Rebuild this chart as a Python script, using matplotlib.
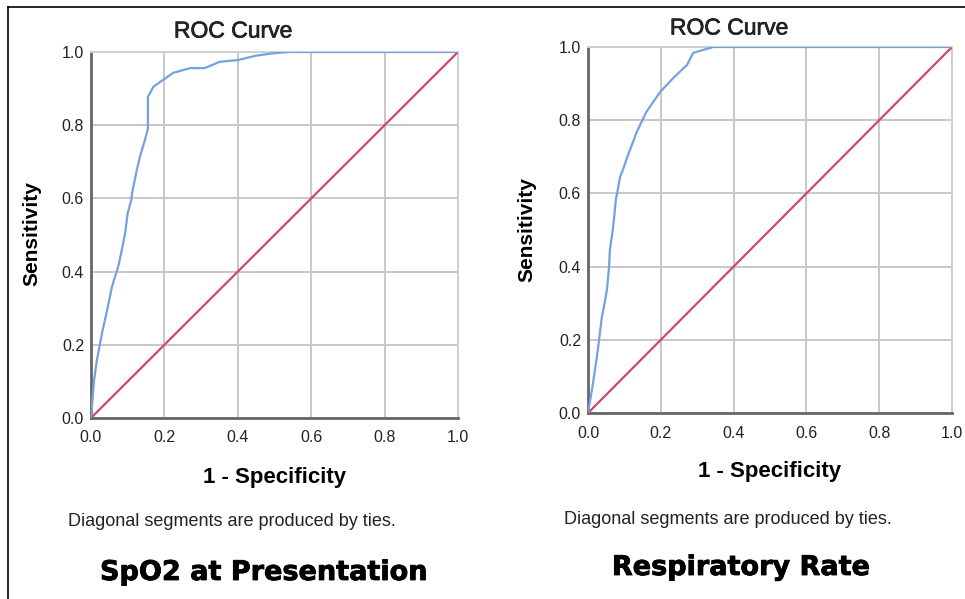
import matplotlib
matplotlib.use("Agg")
import matplotlib.pyplot as plt
import matplotlib.patheffects as pe
from matplotlib.lines import Line2D

# ROC points (1 - specificity, sensitivity)
spo2_fpr = [0.0, 0.008, 0.016, 0.025, 0.03, 0.044, 0.057, 0.065, 0.074, 0.084,
            0.093, 0.10, 0.11, 0.112, 0.125, 0.133, 0.147, 0.155, 0.155, 0.17,
            0.188, 0.224, 0.27, 0.31, 0.35, 0.40, 0.45, 0.50, 0.54, 1.0]
spo2_tpr = [0.0, 0.10, 0.158, 0.205, 0.232, 0.295, 0.358, 0.385, 0.413, 0.459,
            0.505, 0.56, 0.596, 0.615, 0.678, 0.713, 0.76, 0.79, 0.877, 0.905,
            0.918, 0.943, 0.956, 0.956, 0.973, 0.978, 0.99, 0.997, 1.0, 1.0]

rr_fpr = [0.0, 0.012, 0.027, 0.038, 0.042, 0.052, 0.058, 0.06, 0.066, 0.069,
          0.077, 0.08, 0.088, 0.096, 0.11, 0.134, 0.16, 0.198, 0.234, 0.272,
          0.289, 0.344, 1.0]
rr_tpr = [0.0, 0.07, 0.172, 0.262, 0.281, 0.336, 0.40, 0.445, 0.486, 0.508,
          0.587, 0.60, 0.645, 0.665, 0.705, 0.768, 0.822, 0.877, 0.915, 0.951,
          0.984, 1.0, 1.0]

ticks = [0.0, 0.2, 0.4, 0.6, 0.8, 1.0]
tick_labels = ["0.0", "0.2", "0.4", "0.6", "0.8", "1.0"]

blue = "#73a2dc"
red = "#d2456d"

plt.rcParams['font.family'] = ['Liberation Sans', 'DejaVu Sans']

fig = plt.figure(figsize=(9.65, 5.99), dpi=100)


def roc_panel(rect, fpr, tpr):
    ax = fig.add_axes(rect)
    ax.plot([0, 1], [0, 1], color=red, lw=1.6, zorder=3)
    ax.plot(fpr, tpr, color=blue, lw=1.6, zorder=4)
    ax.set_xlim(0, 1)
    ax.set_ylim(0, 1)
    ax.set_xticks(ticks)
    ax.set_yticks(ticks)
    ax.set_xticklabels(tick_labels)
    ax.set_yticklabels(tick_labels)
    ax.tick_params(length=0, labelsize=11.5, labelcolor="#222222")
    ax.tick_params(axis="x", pad=9)
    ax.tick_params(axis="y", pad=5)
    ax.grid(True, color="#c8c8c8", lw=1.4)
    ax.set_axisbelow(True)
    for s in ["top", "right"]:
        ax.spines[s].set_color("#cfcfcf")
        ax.spines[s].set_linewidth(1.4)
    for s in ["left", "bottom"]:
        ax.spines[s].set_color("#666666")
        ax.spines[s].set_linewidth(2)
    return ax


ax1 = roc_panel([91/965, 1-418/599, 367/965, 366/599], spo2_fpr, spo2_tpr)
ax2 = roc_panel([588/965, 1-413/599, 364/965, 366/599], rr_fpr, rr_tpr)


def ftext(x, y, s, **kw):
    fig.text(x/965, 1-y/599, s, ha="center", va="center", **kw)


heavy = [pe.withStroke(linewidth=0.6, foreground="black")]
thick = [pe.withStroke(linewidth=0.5, foreground="#222222")]

# left panel texts
ftext(233, 31, "ROC Curve", fontsize=16.5, color="#222222", path_effects=thick)
ftext(32, 234, "Sensitivity", fontsize=15, fontweight="bold", rotation=90)
ftext(275, 477, "1 - Specificity", fontsize=16, fontweight="bold")
ftext(232, 522, "Diagonal segments are produced by ties.", fontsize=13, color="#222222")
ftext(264, 573, "SpO2 at Presentation", fontsize=19.5, fontweight="bold",
      family="DejaVu Sans", path_effects=heavy)

# right panel texts
ftext(729, 28, "ROC Curve", fontsize=16.5, color="#222222", path_effects=thick)
ftext(527, 230, "Sensitivity", fontsize=15, fontweight="bold", rotation=90)
ftext(770, 472, "1 - Specificity", fontsize=16, fontweight="bold")
ftext(728, 519, "Diagonal segments are produced by ties.", fontsize=13, color="#222222")
ftext(741, 568, "Respiratory Rate", fontsize=19.5, fontweight="bold",
      family="DejaVu Sans", path_effects=heavy)

# outer frame (left and top edges)
fig.add_artist(Line2D([8/965, 8/965], [0, 1-7/599], color="black", lw=1.2,
                      transform=fig.transFigure))
fig.add_artist(Line2D([8/965, 1], [1-7/599, 1-7/599], color="black", lw=1.2,
                      transform=fig.transFigure))

fig.savefig("out.png", dpi=100)
